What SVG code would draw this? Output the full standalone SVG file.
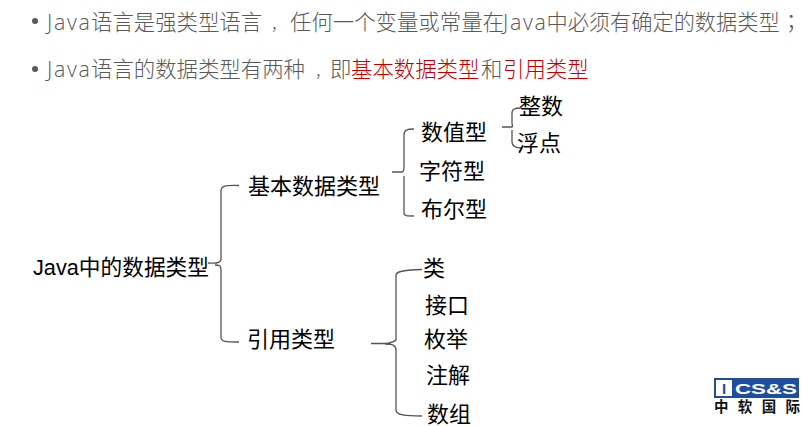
<svg xmlns="http://www.w3.org/2000/svg" width="803" height="427" viewBox="0 0 803 427">
<style>
text{font-family:"Liberation Sans","Noto Sans CJK SC",sans-serif;}
.h{font-size:21.4px;fill:#595959;font-family:"Open Sans","Noto Sans CJK SC",sans-serif;font-weight:300}
.j{letter-spacing:1.7px}
.p{font-size:15px}
.q{font-size:21.2px}
.t{font-family:"Noto Sans CJK TC",sans-serif}
.r{fill:#c00000}
.n{font-size:22px;fill:#000}
.b{fill:none;stroke:#555;stroke-width:1.3}
.l{font-family:"Liberation Sans","Noto Sans CJK SC",sans-serif;font-weight:700}
</style>
<rect width="803" height="427" fill="#fff"/>
<g id="bullets">
<circle cx="35" cy="21" r="3" fill="#595959"/>
<circle cx="35" cy="69" r="3" fill="#595959"/>
<text class="h" y="30"><tspan class="j" x="47">Java</tspan><tspan x="91">语言是强类型语言</tspan><tspan class="p" x="271">，</tspan><tspan x="290">任何一个变量或常量在</tspan><tspan class="j" x="503">Java</tspan><tspan class="q" x="546.500">中必须有确定的数据类型</tspan><tspan class="t" x="780.500">；</tspan></text>
<text class="h" y="77"><tspan class="j" x="47">Java</tspan><tspan x="91">语言的数据类型有两种</tspan><tspan class="p" x="315">，</tspan><tspan x="330">即</tspan></text>
<text class="h r" x="351" y="77">基本数据类型</text>
<text class="h" x="481" y="77">和</text>
<text class="h r" x="503" y="77">引用类型</text>
</g>
<g id="connectors">
<path class="b" d="M208 263C214 263 220 264 221 260V191C221 186 225 185 239 185.500M215 265C220 265 221 266 221 270V337C221 342 226 342 239 342"/>
<path class="b" d="M392 172H402C403 172 404 170 404 167V135C404 130 407 129 414 129M404 176V213C404 216 407 216 414 216"/>
<path class="b" d="M502 127H512C513 127 512 125 512 122V113C512 109 515 108 522 108M512 130V142C512 146 515 148 522 148"/>
<path class="b" d="M371 343.500C384 343.500 392 344 396 340V275C396 271 406 270 422 269.500M385 344C392 344 396 345 396 350V410C396 415 405 416 422 416"/>
</g>
<g id="root"><text class="n" x="33" y="275" textLength="176" lengthAdjust="spacingAndGlyphs">Java中的数据类型</text></g>
<g id="basic"><text class="n" x="248" y="194">基本数据类型</text></g>
<g id="ref"><text class="n" x="247" y="347">引用类型</text></g>
<g id="num"><text class="n" x="421" y="140">数值型</text></g>
<g id="char"><text class="n" x="419" y="179">字符型</text></g>
<g id="bool"><text class="n" x="421" y="217">布尔型</text></g>
<g id="int"><text class="n" x="519" y="114">整数</text></g>
<g id="float"><text class="n" x="517" y="151">浮点</text></g>
<g id="class"><text class="n" x="423" y="276">类</text></g>
<g id="iface"><text class="n" x="425" y="313">接口</text></g>
<g id="enum"><text class="n" x="424" y="347">枚举</text></g>
<g id="anno"><text class="n" x="426" y="383">注解</text></g>
<g id="array"><text class="n" x="427" y="422">数组</text></g>
<g id="logo">
<rect x="714" y="378" width="85" height="20" fill="#1f4e9c"/>
<rect x="716" y="380" width="16" height="16" fill="#fff"/>
<text class="l" x="724" y="394" font-size="15" fill="#1f4e9c" text-anchor="middle">I</text>
<text class="l" x="735" y="393.500" font-size="15" fill="#fff" textLength="62" lengthAdjust="spacingAndGlyphs">CS&amp;S</text>
<text class="l" x="714" y="412" font-size="14.500" fill="#111" textLength="86">中软国际</text>
</g>
</svg>
